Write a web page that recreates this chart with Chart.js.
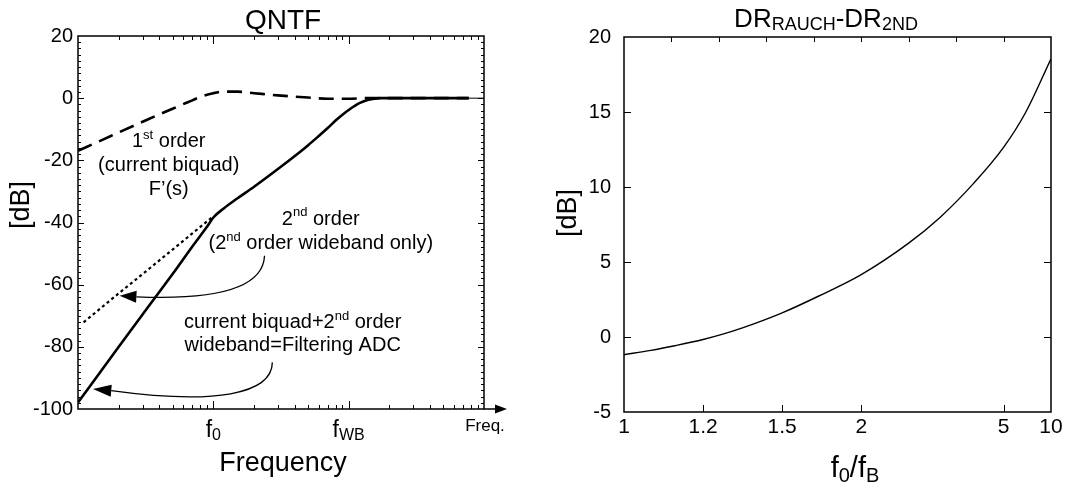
<!DOCTYPE html>
<html>
<head>
<meta charset="utf-8">
<script src="https://cdn.jsdelivr.net/npm/chart.js@4.4.1/dist/chart.umd.min.js"></script>
<style>
  html, body { margin: 0; padding: 0; background: #fff; }
  body { width: 1066px; height: 482px; position: relative; overflow: hidden; }
  .panel { position: absolute; top: 0; height: 482px; }
  #left { left: 0; width: 530px; }
  #right { left: 530px; width: 536px; }
</style>
</head>
<body>
<div class="panel" id="left"><canvas id="qntfChart"></canvas></div>
<div class="panel" id="right"><canvas id="drChart"></canvas></div>
<script>
const FONT = '"Liberation Sans", Arial, Helvetica, sans-serif';

// QNTF panel, frequency in relative units (f0 = 10, fWB = 100)
const freqFirst = [1, 1.5, 2, 3, 4, 5, 6, 7, 8, 10, 12, 15, 20, 30, 50, 70, 100, 130, 771];
const dbFirst = [-16.9, -13.5, -11.0, -7.6, -5.2, -3.4, -1.9, -0.7, 0.4, 1.6, 2.1, 2.1, 1.6, 0.9, 0.2, -0.2, -0.2, 0, 0];
const freqSecond = [1.1, 2, 3, 5, 7, 10];
const dbSecond = [-72.1, -62.8, -56.6, -48.7, -43.5, -38.0];
const freqFilter = [1, 2, 3, 5, 7, 9, 10, 12, 15, 20, 30, 40, 50, 60, 70, 80, 90, 100, 120, 140, 170, 771];
const dbFilter = [-97.9, -80.0, -69.6, -56.6, -47.7, -41.3, -38.4, -35.4, -32.3, -28.5, -22.8, -18.6, -15.2, -12.2, -9.6, -7.2, -5.3, -3.8, -1.6, -0.5, 0, 0];
const freqTail = [771, 1000];
const dbTail = [0, 0];
const freqTicks = [10, 100];
const freqTickLabels = [[['f', 0], ['0', -1]], [['f', 0], ['WB', -1]]];

// DR difference panel
const ratioValues = [1, 1.06, 1.12, 1.2, 1.26, 1.33, 1.5, 1.7, 2, 2.5, 3, 3.8, 5, 6.5, 10];
const drDiff = [-1.18, -0.89, -0.58, -0.17, 0.17, 0.59, 1.61, 2.75, 4.16, 6.26, 7.99, 10.24, 12.64, 14.95, 18.55];
const ratioTicks = [1, 1.2, 1.5, 2, 5, 10];
const ratioTopTicks = [1.111, 1.25, 1.429, 1.667, 2, 2.5, 3.333, 5];

// callouts on the QNTF panel, in axis units (freq, dB)
const noteTexts = [
  { at: [4.68, -15.8], parts: [['1', 0], ['st', 1], [' order', 0]] },
  { at: [4.68, -23.5], parts: [['(current biquad)', 0]] },
  { at: [4.68, -31.2], parts: [['F\u2019(s)', 0]] },
  { at: [62.2, -40.8], parts: [['2', 0], ['nd', 1], [' order', 0]] },
  { at: [62.2, -48.6], parts: [['(2', 0], ['nd', 1], [' order wideband only)', 0]] },
  { at: [38.6, -74.0], parts: [['current biquad+2', 0], ['nd', 1], [' order', 0]] },
  { at: [38.6, -81.5], parts: [['wideband=Filtering ADC', 0]] }
];
const noteArrows = [
  { from: [23.9, -50.7], c1: [23.3, -61.4], c2: [10.3, -65.0], base: [2.70, -63.9], tip: [2.03, -63.6] },
  { from: [27.3, -85.0], c1: [27.1, -95.2], c2: [10.3, -98.7], base: [1.76, -94.1], tip: [1.29, -93.6] }
];

const toPoints = (xs, ys) => xs.map((x, i) => ({ x, y: ys[i] }));

// axis linear in 1 - 1/x, labelled with x itself
class ReciprocalScale extends Chart.Scale {
  static id = 'reciprocal';
  static defaults = {};
  determineDataLimits() {
    const { min, max } = this.getMinMax(true);
    this.min = min;
    this.max = max;
  }
  buildTicks() {
    return ratioTicks.map(v => ({ value: v }));
  }
  getLabelForValue(v) {
    return String(v);
  }
  configure() {
    super.configure();
    this._u0 = 1 - 1 / this.min;
    this._uRange = (1 - 1 / this.max) - this._u0;
  }
  getPixelForValue(v) {
    return this.getPixelForDecimal((1 - 1 / v - this._u0) / this._uRange);
  }
  getValueForPixel(p) {
    const u = this._u0 + this.getDecimalForPixel(p) * this._uRange;
    return 1 / (1 - u);
  }
}
Chart.register(ReciprocalScale);

Chart.defaults.color = '#000';
Chart.defaults.font.family = FONT;

function drawRich(ctx, parts, x, y, o) {
  const size = o.size, small = o.small || Math.round(size * 0.65);
  const pieces = parts.map(([text, kind]) => {
    const sz = kind ? small : size;
    ctx.font = sz + 'px ' + FONT;
    return { text, kind, sz, w: ctx.measureText(text).width };
  });
  const total = pieces.reduce((a, p) => a + p.w, 0);
  let cx = x - total / 2;
  ctx.textAlign = 'left';
  ctx.textBaseline = 'alphabetic';
  ctx.fillStyle = '#000';
  for (const p of pieces) {
    ctx.font = p.sz + 'px ' + FONT;
    const dy = p.kind === 1 ? -(o.rise || size * 0.42) : p.kind === -1 ? (o.drop || size * 0.14) : 0;
    ctx.fillText(p.text, cx, y + dy);
    cx += p.w;
  }
}

function drawVertical(ctx, text, x, y, size) {
  ctx.save();
  ctx.translate(x, y);
  ctx.rotate(-Math.PI / 2);
  ctx.font = size + 'px ' + FONT;
  ctx.fillStyle = '#000';
  ctx.textAlign = 'center';
  ctx.textBaseline = 'middle';
  ctx.fillText(text, 0, 0);
  ctx.restore();
}

function frame(ctx, a) {
  ctx.strokeStyle = '#000';
  ctx.lineWidth = 1.5;
  ctx.strokeRect(a.left, a.top, a.right - a.left, a.bottom - a.top);
}

// inward tick marks on both opposite sides
function xTicks(ctx, scale, a, values, len, top, bottom) {
  ctx.beginPath();
  for (const v of values) {
    const px = Math.round(scale.getPixelForValue(v)) + 0.5;
    if (bottom) { ctx.moveTo(px, a.bottom); ctx.lineTo(px, a.bottom - len); }
    if (top) { ctx.moveTo(px, a.top); ctx.lineTo(px, a.top + len); }
  }
  ctx.stroke();
}
function yTicks(ctx, scale, a, values, len) {
  ctx.beginPath();
  for (const v of values) {
    const py = Math.round(scale.getPixelForValue(v)) + 0.5;
    ctx.moveTo(a.left, py); ctx.lineTo(a.left + len, py);
    ctx.moveTo(a.right, py); ctx.lineTo(a.right - len, py);
  }
  ctx.stroke();
}

const qntfDecor = {
  id: 'qntfDecor',
  afterDatasetsDraw(chart) {
    const ctx = chart.ctx, a = chart.chartArea;
    const xs = chart.scales.x, ys = chart.scales.y;
    ctx.save();
    frame(ctx, a);
    ctx.lineWidth = 1;
    const minors = [];
    for (let k = 0; k < 3; k++) for (let m = 2; m <= 9; m++) minors.push(m * Math.pow(10, k));
    xTicks(ctx, xs, a, minors, 4, true, true);
    xTicks(ctx, xs, a, freqTicks, 8, true, true);
    const yMinor = [];
    for (let v = -98; v < 20; v += 2) if (v % 20) yMinor.push(v);
    yTicks(ctx, ys, a, yMinor, 3);
    yTicks(ctx, ys, a, [-80, -60, -40, -20, 0], 6);

    // axis arrow past the frame
    ctx.lineWidth = 1.5;
    ctx.beginPath();
    ctx.moveTo(a.right, a.bottom);
    ctx.lineTo(a.right + 14, a.bottom);
    ctx.stroke();
    ctx.beginPath();
    ctx.moveTo(a.right + 23, a.bottom);
    ctx.lineTo(a.right + 11, a.bottom - 4.5);
    ctx.lineTo(a.right + 11, a.bottom + 4.5);
    ctx.closePath();
    ctx.fillStyle = '#000';
    ctx.fill();

    // callout arrows
    const P = ([f, db]) => [xs.getPixelForValue(f), ys.getPixelForValue(db)];
    for (const n of noteArrows) {
      const p0 = P(n.from), p1 = P(n.c1), p2 = P(n.c2), p3 = P(n.base), tp = P(n.tip);
      ctx.lineWidth = 1.3;
      ctx.beginPath();
      ctx.moveTo(p0[0], p0[1]);
      ctx.bezierCurveTo(p1[0], p1[1], p2[0], p2[1], p3[0], p3[1]);
      ctx.stroke();
      const dx = tp[0] - p3[0], dy = tp[1] - p3[1], L = Math.hypot(dx, dy);
      const nx = -dy / L * 6, ny = dx / L * 6;
      ctx.beginPath();
      ctx.moveTo(tp[0], tp[1]);
      ctx.lineTo(p3[0] + nx, p3[1] + ny);
      ctx.lineTo(p3[0] - nx, p3[1] - ny);
      ctx.closePath();
      ctx.fill();
    }
    for (const t of noteTexts) {
      const [px, py] = P(t.at);
      drawRich(ctx, t.parts, px, py, { size: 20, small: 13, rise: 8.5 });
    }

    // texts around the frame
    freqTicks.forEach((v, i) => {
      drawRich(ctx, freqTickLabels[i], xs.getPixelForValue(v), 437, { size: 23, small: 16, drop: 3 });
    });
    drawRich(ctx, [['Freq.', 0]], a.right + 1, 431, { size: 17 });
    drawRich(ctx, [['Frequency', 0]], (a.left + a.right) / 2 + 2, 471, { size: 27 });
    drawRich(ctx, [['QNTF', 0]], (a.left + a.right) / 2 + 2, 29, { size: 28 });
    drawVertical(ctx, '[dB]', 22, 205, 27);
    ctx.restore();
  }
};

const drDecor = {
  id: 'drDecor',
  afterDatasetsDraw(chart) {
    const ctx = chart.ctx, a = chart.chartArea;
    const xs = chart.scales.x, ys = chart.scales.y;
    ctx.save();
    frame(ctx, a);
    ctx.lineWidth = 1;
    yTicks(ctx, ys, a, [0, 5, 10, 15], 7);
    xTicks(ctx, xs, a, ratioTicks.slice(1, -1), 7, false, true);
    xTicks(ctx, xs, a, ratioTopTicks, 5, true, false);
    drawRich(ctx, [['DR', 0], ['RAUCH', -1], ['-DR', 0], ['2ND', -1]], 296, 27, { size: 26, small: 18, drop: 3.3 });
    drawRich(ctx, [['f', 0], ['0', -1], ['/f', 0], ['B', -1]], 325, 477, { size: 29, small: 20, drop: 5 });
    drawVertical(ctx, '[dB]', 39, 213, 27);
    ctx.restore();
  }
};

const hiddenGrid = { display: false, drawTicks: false };

new Chart(document.getElementById('qntfChart'), {
  type: 'line',
  data: {
    datasets: [
      { data: toPoints(freqTail, dbTail), borderWidth: 1 },
      { data: toPoints(freqSecond, dbSecond), borderWidth: 2.2, borderDash: [3, 3] },
      { data: toPoints(freqFirst, dbFirst), borderWidth: 2.6, borderDash: [15, 8] },
      { data: toPoints(freqFilter, dbFilter), borderWidth: 2.6 }
    ].map(d => ({ ...d, borderColor: '#000', pointRadius: 0, fill: false, cubicInterpolationMode: 'monotone' }))
  },
  options: {
    responsive: true,
    maintainAspectRatio: false,
    animation: false,
    events: [],
    layout: { padding: { top: 36, right: 46, left: 0, bottom: 0 } },
    plugins: { legend: { display: false }, tooltip: { enabled: false } },
    scales: {
      x: {
        type: 'logarithmic', min: 1, max: 1000,
        grid: hiddenGrid, border: { display: false },
        ticks: { display: false },
        afterFit: s => { s.height = 73; }
      },
      y: {
        min: -100, max: 20,
        grid: hiddenGrid, border: { display: false },
        ticks: { stepSize: 20, padding: 5, font: { size: 20 } },
        afterFit: s => { s.width = 78; }
      }
    }
  },
  plugins: [qntfDecor]
});

new Chart(document.getElementById('drChart'), {
  type: 'line',
  data: {
    datasets: [{
      data: toPoints(ratioValues, drDiff),
      borderColor: '#000', borderWidth: 1.4, pointRadius: 0, fill: false,
      cubicInterpolationMode: 'monotone'
    }]
  },
  options: {
    responsive: true,
    maintainAspectRatio: false,
    animation: false,
    events: [],
    layout: { padding: { top: 37, right: 15, left: 0, bottom: 0 } },
    plugins: { legend: { display: false }, tooltip: { enabled: false } },
    scales: {
      x: {
        type: 'reciprocal', min: 1, max: 10,
        grid: hiddenGrid, border: { display: false },
        ticks: { padding: 3, autoSkip: false, maxRotation: 0, font: { size: 21 } },
        afterFit: s => { s.height = 70; }
      },
      y: {
        min: -5, max: 20,
        grid: hiddenGrid, border: { display: false },
        ticks: { stepSize: 5, padding: 13, font: { size: 20 } },
        afterFit: s => { s.width = 94; }
      }
    }
  },
  plugins: [drDecor]
});
</script>
</body>
</html>
